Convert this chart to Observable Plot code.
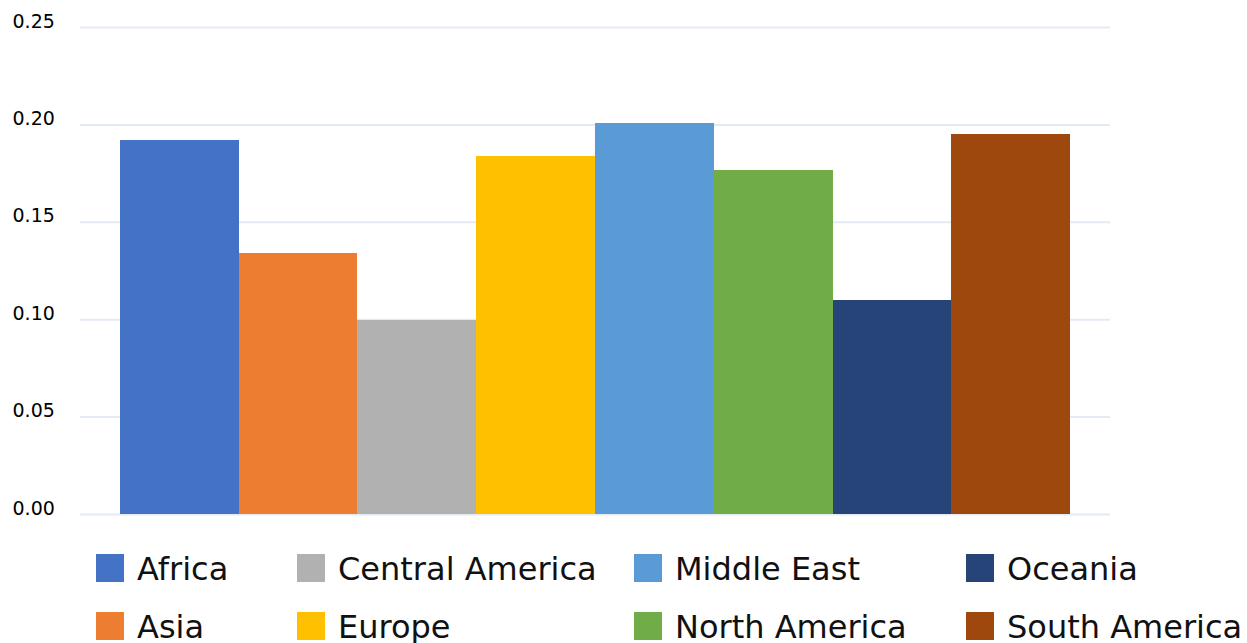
<!DOCTYPE html>
<html>
<head>
<meta charset="utf-8">
<script src="https://cdn.jsdelivr.net/npm/d3@7"></script>
<script src="https://cdn.jsdelivr.net/npm/@observablehq/plot@0.6"></script>
<style>
  body { margin: 0; background: #fff; font-family: "DejaVu Sans", sans-serif; }
  #chart { width: 1247px; height: 643px; overflow: hidden; position: relative; }
  .legend {
    display: grid;
    grid-template-columns: 201px 337px 332px 281px;
    grid-auto-flow: column;
    grid-template-rows: 58px 58px;
    padding-left: 96px;
    padding-top: 24px;
  }
  .item { display: flex; align-items: flex-start; font-size: 32px; color: #111; white-space: nowrap; }
  .swatch { width: 28px; height: 28px; margin-right: 13px; flex: none; }
  .item span.label { line-height: 28px; position: relative; top: 1px; }
</style>
</head>
<body>
<div id="chart"></div>
<script>
// Regions and their values
const regions = ["Africa", "Asia", "Central America", "Europe", "Middle East", "North America", "Oceania", "South America"];
const values = [0.192, 0.134, 0.0995, 0.184, 0.2005, 0.1767, 0.110, 0.195];
const colors = ["#4472C4", "#ED7D31", "#B1B1B1", "#FFC000", "#5B9BD5", "#70AD47", "#264478", "#9E480E"];
const yTicks = [0, 0.05, 0.10, 0.15, 0.20, 0.25];

const data = regions.map((region, i) => ({region, value: values[i]}));

const plot = Plot.plot({
  width: 1247,
  height: 530,
  marginLeft: 80,
  marginRight: 137,
  marginTop: 27,
  marginBottom: 16,
  style: {fontFamily: "DejaVu Sans, sans-serif", fontSize: "19px", color: "#000", background: "#fff"},
  x: {domain: regions, paddingInner: 0, paddingOuter: 0.3368, round: false, axis: null},
  y: {domain: [0, 0.25], axis: null},
  color: {domain: regions, range: colors},
  marks: [
    Plot.ruleY(yTicks, {stroke: "#e4eaf4", strokeWidth: 2}),
    Plot.barY(data, {x: "region", y: "value", fill: "region", shapeRendering: "crispEdges"}),
    Plot.axisY({
      ticks: yTicks,
      tickFormat: d3.format(".2f"),
      tickSize: 0,
      tickPadding: 68,
      textAnchor: "start",
      dy: -6,
      fill: "#000",
      label: null
    })
  ]
});

const chart = document.getElementById("chart");
chart.appendChild(plot);

// Legend: two rows, filled column by column
const legend = document.createElement("div");
legend.className = "legend";
regions.forEach((region, i) => {
  const item = document.createElement("div");
  item.className = "item";
  const sw = document.createElement("div");
  sw.className = "swatch";
  sw.style.background = colors[i];
  const label = document.createElement("span");
  label.className = "label";
  label.textContent = region;
  item.appendChild(sw);
  item.appendChild(label);
  legend.appendChild(item);
});
chart.appendChild(legend);
</script>
</body>
</html>
